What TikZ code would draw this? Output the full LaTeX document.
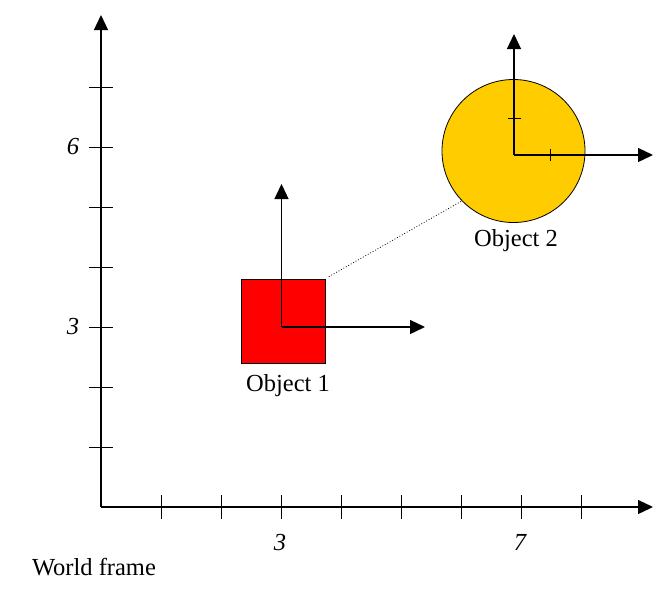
\documentclass[tikz,border=0pt]{standalone}
\usepackage{fontspec}
\setmainfont{Liberation Serif}
\usetikzlibrary{arrows.meta}
\definecolor{objred}{HTML}{FF0000}
\definecolor{objgold}{HTML}{FFCC00}
\tikzset{
  axisline/.style={line width=1.3pt, -{Triangle[length=15pt,width=14pt]}},
  tickline/.style={line width=1pt},
  lbl/.style={font=\fontsize{24.5}{28}\selectfont, inner sep=0pt},
  numlbl/.style={font=\fontsize{24.5}{28}\selectfont\itshape, inner sep=0pt},
}
\begin{document}
\begin{tikzpicture}[x=1pt,y=-1pt]
\useasboundingbox (0,0) rectangle (664,590);
% world frame
\coordinate (O) at (101,507);
\coordinate (Xend) at (653,507);
\coordinate (Yend) at (101,15);
\draw[axisline] (O) -- (Xend);
\draw[axisline] (O) -- (Yend);
\foreach \i in {1,...,8} {
  \draw[tickline] (101+60*\i,495) -- (101+60*\i,519);
}
\foreach \i in {1,...,7} {
  \draw[tickline] (89,507-60*\i) -- (113,507-60*\i);
}
\node[numlbl] (x3) at (280,542) {3};
\node[numlbl] (x7) at (520,542) {7};
\node[numlbl] (y3) at (73,327) {3};
\node[numlbl] (y6) at (73,147) {6};
\node[lbl] (wf) at (94,567) {World frame};
% object 1
\node[draw=black, line width=0.8pt, fill=objred, minimum size=84pt, inner sep=0pt] (sq) at (283.5,321) {};
\coordinate (O1) at (281.5,327);
\coordinate (O1x) at (425,327);
\coordinate (O1y) at (281.5,184);
\draw[axisline] (O1) -- (O1x);
\draw[axisline] (O1) -- (O1y);
\node[lbl] (l1) at (288,386) {Object 1};
% object 2
\node[draw=black, line width=0.8pt, fill=objgold, circle, minimum size=143pt, inner sep=0pt] (ci) at (513.5,151) {};
\coordinate (O2) at (514,155);
\coordinate (O2x) at (653,155);
\coordinate (O2y) at (514,34);
\draw[axisline] (O2) -- (O2x);
\draw[axisline] (O2) -- (O2y);
\draw[tickline] (508,118.5) -- (521,118.5);
\draw[tickline] (550.5,149) -- (550.5,161);
\node[lbl] (l2) at (516,241) {Object 2};
% link
\draw[dotted, line width=0.8pt] (sq.north east) ++(3,-2) -- (ci.224);
\end{tikzpicture}
\end{document}
